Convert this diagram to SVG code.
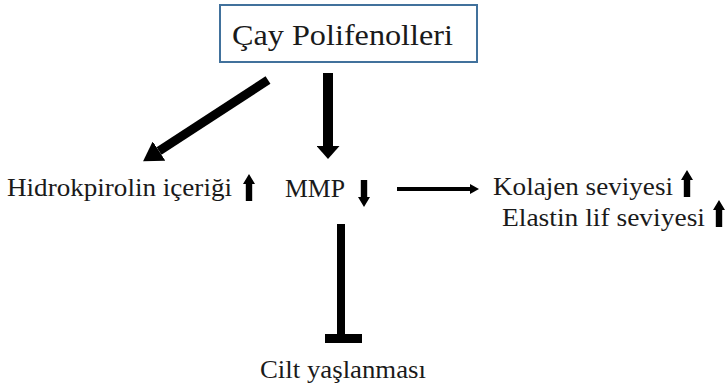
<svg xmlns="http://www.w3.org/2000/svg" width="725" height="386" viewBox="0 0 725 386">
<style>
text{font-family:"Liberation Serif","Times New Roman",serif;fill:#1a1a1a;font-size:25px}
.title{font-size:30px}
.box{fill:#fff;stroke:#41719c;stroke-width:2}
.conn{stroke:#000;fill:none}
.ua{fill:#000}
</style>
<defs>
<marker id="headBig" markerUnits="userSpaceOnUse" viewBox="0 0 10 10" refX="0" refY="5" markerWidth="19" markerHeight="23" orient="auto" preserveAspectRatio="none"><path d="M0,0 L10,5 L0,10 z" fill="#000"/></marker>
<marker id="headV" markerUnits="userSpaceOnUse" viewBox="0 0 10 10" refX="0" refY="5" markerWidth="13" markerHeight="23" orient="auto" preserveAspectRatio="none"><path d="M0,0 L10,5 L0,10 z" fill="#000"/></marker>
<marker id="headS" markerUnits="userSpaceOnUse" viewBox="0 0 10 10" refX="0" refY="5" markerWidth="9" markerHeight="10" orient="auto" preserveAspectRatio="none"><path d="M0,0 L10,5 L0,10 z" fill="#000"/></marker>
<path id="up" d="M0,0 L6,10 L3.2,10 L3.2,27 L-3.2,27 L-3.2,10 L-6,10 z"/>
</defs>
<g id="connectors">
<line class="conn" x1="268" y1="80" x2="159" y2="151" stroke-width="9" marker-end="url(#headBig)"/>
<line class="conn" x1="328" y1="73" x2="328" y2="146" stroke-width="10" marker-end="url(#headV)"/>
<line class="conn" x1="397" y1="189" x2="470" y2="189" stroke-width="4" marker-end="url(#headS)"/>
<g id="inhibit">
<line class="conn" x1="341" y1="224" x2="341" y2="336" stroke-width="8"/>
<rect x="325" y="334" width="37" height="9" fill="#000"/>
</g>
</g>
<g id="cay">
<rect class="box" x="220" y="5" width="257" height="57"/>
<text class="title" x="232" y="45" textLength="221" lengthAdjust="spacingAndGlyphs">Çay Polifenolleri</text>
</g>
<g id="hidrok">
<text x="7" y="196" textLength="225" lengthAdjust="spacingAndGlyphs">Hidrokpirolin içeriği</text>
<use href="#up" class="ua" x="249" y="174"/>
</g>
<g id="mmp">
<text x="285" y="197" textLength="60" lengthAdjust="spacingAndGlyphs">MMP</text>
<use href="#up" class="ua" transform="translate(364,207) rotate(180)"/>
</g>
<g id="kolajen">
<text x="493" y="195" textLength="180" lengthAdjust="spacingAndGlyphs">Kolajen seviyesi</text>
<use href="#up" class="ua" x="687" y="170"/>
</g>
<g id="elastin">
<text x="502" y="226" textLength="203" lengthAdjust="spacingAndGlyphs">Elastin lif seviyesi</text>
<use href="#up" class="ua" x="719" y="200"/>
</g>
<g id="cilt">
<text x="260" y="378" textLength="166" lengthAdjust="spacingAndGlyphs">Cilt yaşlanması</text>
</g>
</svg>
